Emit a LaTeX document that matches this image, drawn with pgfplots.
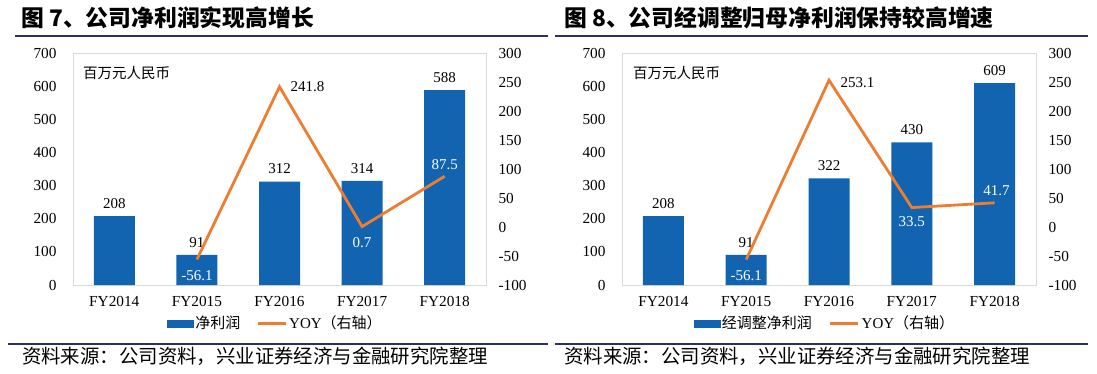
\documentclass[border=0pt]{standalone}
\usepackage{pgfplots}
\pgfplotsset{compat=1.18}
\usepackage{fontspec}
\setmainfont{Liberation Serif}
\newfontfamily\cjk{Noto Sans CJK SC}
\definecolor{barblue}{RGB}{18,99,176}
\definecolor{lineorange}{RGB}{237,125,49}
\definecolor{rulenavy}{RGB}{44,48,96}
\definecolor{framegray}{RGB}{217,217,217}
\tikzset{lab/.style={font=\fontsize{15bp}{18bp}\selectfont}}
\pgfplotsset{
  base/.style={scale only axis, height=232bp, xmin=-0.5, xmax=4.5,
    major tick length=0, axis line style={draw=framegray},
    tick label style={font=\fontsize{15.3bp}{18bp}\selectfont, text=black},
    /pgf/number format/assume math mode=true, clip=false},
  barax/.style={base, ymin=0, ymax=700, ytick={0,100,...,700}, ytick pos=left, xtick pos=bottom,
    xtick={0,...,4}, xticklabels={FY2014,FY2015,FY2016,FY2017,FY2018},
    ybar, bar width=41bp, yticklabel style={xshift=-13bp}, xticklabel style={yshift=-8bp},
    nodes near coords, every node near coord/.append style={font=\fontsize{15bp}{18bp}\selectfont, text=black, yshift=4bp}},
  lineax/.style={base, ymin=-100, ymax=300, ytick={-100,-50,...,300}, axis y line*=right,
    axis x line=none, axis line style={draw=none}, yticklabel style={xshift=9bp},
    legend style={at={(0.49,-0.165)}, anchor=center, draw=none, fill=none, legend columns=2,
      font=\fontsize{15bp}{18bp}\selectfont, /tikz/every even column/.append style={column sep=14bp}},
    legend cell align=left}
}
\begin{document}
\begin{tikzpicture}[x=1bp,y=1bp]
\path[use as bounding box, fill=white] (0,0) rectangle (1097,373);
% titles
\node[anchor=west, inner sep=0] at (21,355.5) {\cjk\bfseries\fontsize{22.8bp}{26bp}\selectfont 图 7、公司净利润实现高增长};
\node[anchor=west, inner sep=0] at (564,355.5) {\cjk\bfseries\fontsize{22.8bp}{26bp}\selectfont 图 8、公司经调整归母净利润保持较高增速};
\draw[rulenavy, line width=2bp] (15,337) -- (548,337);
\draw[rulenavy, line width=2bp] (555,337) -- (1088,337);
\draw[rulenavy, line width=2bp] (8,29) -- (548,29);
\draw[rulenavy, line width=2bp] (555,29) -- (1088,29);
\node[anchor=west, inner sep=0] at (22,17) {\cjk\fontsize{19.4bp}{22bp}\selectfont 资料来源：公司资料，兴业证券经济与金融研究院整理};
\node[anchor=west, inner sep=0] at (564,17) {\cjk\fontsize{19.4bp}{22bp}\selectfont 资料来源：公司资料，兴业证券经济与金融研究院整理};
\node[anchor=west, inner sep=0] at (83,300) {\cjk\fontsize{14.5bp}{17bp}\selectfont 百万元人民币};
\node[anchor=west, inner sep=0] at (633,300) {\cjk\fontsize{14.5bp}{17bp}\selectfont 百万元人民币};

% ---------- panel 1 ----------
\begin{axis}[barax, at={(73bp,88bp)}, anchor=south west, width=413bp]
\addplot[fill=barblue, draw=none] coordinates {(0,208) (1,91) (2,312) (3,314) (4,588)};
\end{axis}
\begin{axis}[lineax, at={(73bp,88bp)}, anchor=south west, width=413bp]
\addlegendimage{legend image code/.code={\fill[barblue] (0bp,-3.5bp) rectangle (26bp,3.5bp);}}
\addlegendentry{\cjk 净利润}
\addplot[lineorange, line width=2.8bp, legend image code/.code={\draw[lineorange, line width=2.8bp] (0bp,0bp) -- (28bp,0bp);}]
  coordinates {(1,-56.1) (2,241.8) (3,0.7) (4,87.5)};
\addlegendentry{YOY{\cjk（右轴）}}
\node[lab, text=white, yshift=-16bp] at (axis cs:1,-56.1) {-56.1};
\node[lab, anchor=west, xshift=7.5bp] at (axis cs:2,241.8) {241.8};
\node[lab, text=white, yshift=-16bp] at (axis cs:3,0.7) {0.7};
\node[lab, text=white, yshift=12bp] at (axis cs:4,87.5) {87.5};
\end{axis}

% ---------- panel 2 ----------
\begin{axis}[barax, at={(622bp,88bp)}, anchor=south west, width=414bp]
\addplot[fill=barblue, draw=none] coordinates {(0,208) (1,91) (2,322) (3,430) (4,609)};
\end{axis}
\begin{axis}[lineax, at={(622bp,88bp)}, anchor=south west, width=414bp,
  legend style={/tikz/every even column/.append style={column sep=15bp}}]
\addlegendimage{legend image code/.code={\fill[barblue] (0bp,-3.5bp) rectangle (26bp,3.5bp);}}
\addlegendentry{\cjk 经调整净利润}
\addplot[lineorange, line width=2.8bp, legend image code/.code={\draw[lineorange, line width=2.8bp] (0bp,0bp) -- (28bp,0bp);}]
  coordinates {(1,-56.1) (2,253.1) (3,33.5) (4,41.7)};
\addlegendentry{YOY{\cjk（右轴）}}
\node[lab, text=white, yshift=-16bp] at (axis cs:1,-56.1) {-56.1};
\node[lab, anchor=west, xshift=8bp, yshift=-2bp] at (axis cs:2,253.1) {253.1};
\node[lab, text=white, yshift=-14bp] at (axis cs:3,33.5) {33.5};
\node[lab, text=white, yshift=12bp, xshift=2bp] at (axis cs:4,41.7) {41.7};
\end{axis}
\end{tikzpicture}
\end{document}
